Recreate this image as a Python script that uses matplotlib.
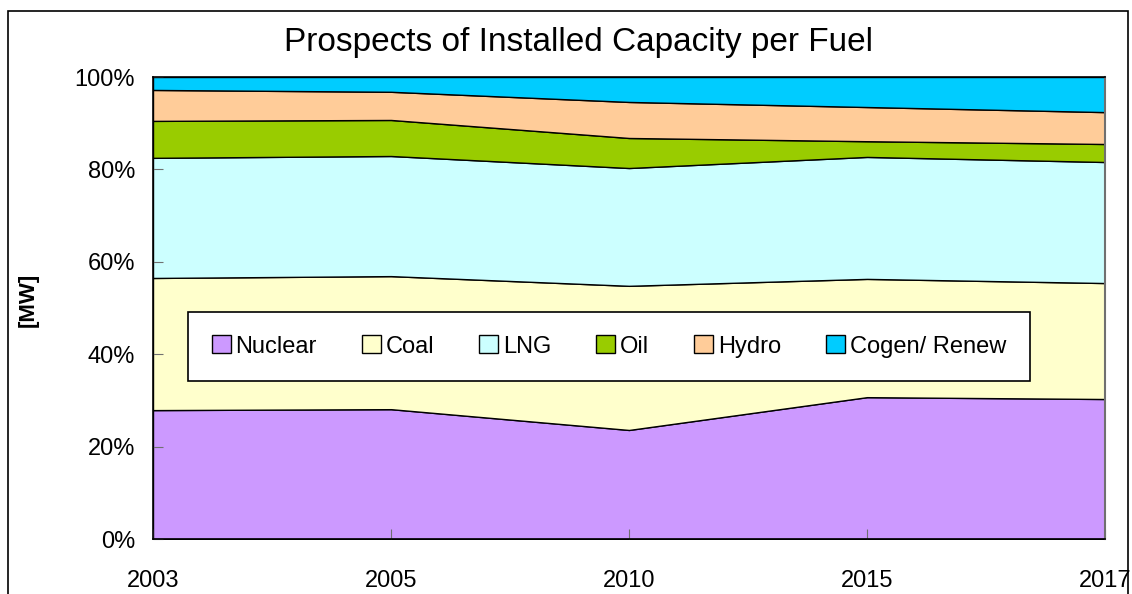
import numpy as np
import matplotlib.pyplot as plt
from matplotlib.patches import Rectangle
from matplotlib.ticker import PercentFormatter

plt.rcParams['font.family'] = ['Liberation Sans', 'DejaVu Sans']

years = ['2003', '2005', '2010', '2015', '2017']
fuels = ['Nuclear', 'Coal', 'LNG', 'Oil', 'Hydro', 'Cogen/ Renew']

# share of installed capacity, %
nuclear = [27.9, 28.1, 23.6, 30.7, 30.3]
coal = [28.6, 28.8, 31.2, 25.6, 25.1]
lng = [26.0, 26.0, 25.5, 26.4, 26.2]
oil = [8.0, 7.8, 6.5, 3.4, 3.9]
hydro = [6.7, 6.1, 7.8, 7.4, 6.9]
cogen = [2.8, 3.2, 5.4, 6.5, 7.6]

colors = ['#CC99FF', '#FFFFCC', '#CCFFFF', '#99CC00', '#FFCC99', '#00CCFF']

fig = plt.figure(figsize=(11.32, 5.94), dpi=100)
ax = fig.add_axes([153/1132, 55/594, 952/1132, 462/594])

# outer chart frame
fig.patches.append(Rectangle((8/1132, -0.05), 1120/1132, 1 - 11/594 + 0.05,
                             transform=fig.transFigure, fill=False,
                             edgecolor='black', linewidth=1.2))

x = np.arange(len(years))
series = [nuclear, coal, lng, oil, hydro, cogen]
polys = ax.stackplot(x, *series, colors=colors, edgecolor='black',
                     linewidth=1.0, labels=fuels)

ax.set_xlim(0, len(years) - 1)
ax.set_ylim(0, 100)
ax.set_yticks(np.arange(0, 101, 20))
ax.yaxis.set_major_formatter(PercentFormatter(decimals=0))
ax.set_xticks(x)
ax.set_xticklabels(years)
ax.tick_params(axis='both', direction='in', length=7, color='#707070',
               labelsize=17)
ax.tick_params(axis='x', pad=22)
ax.tick_params(axis='y', pad=13)

for s in ['left', 'bottom', 'top']:
    ax.spines[s].set_color('black')
    ax.spines[s].set_linewidth(1.2)
ax.spines['right'].set_color('#707070')
ax.spines['right'].set_linewidth(1.5)

fig.text(578/1132, 1 - 42/594, 'Prospects of Installed Capacity per Fuel',
         ha='center', va='center', fontsize=24)
fig.text(28/1132, 1 - 300/594, '[MW]', rotation=90, ha='center',
         va='center', fontsize=16, fontweight='bold')

leg = ax.legend(loc='center', ncol=6, mode='expand',
                bbox_to_anchor=(0.037, 0.34, 0.884, 0.1535),
                fontsize=17, frameon=True, fancybox=False,
                handlelength=0.8, handleheight=0.8, handletextpad=0.2,
                borderaxespad=0, borderpad=1.0, columnspacing=1.0)
leg.get_frame().set_edgecolor('black')
leg.get_frame().set_linewidth(1.2)
leg.get_frame().set_alpha(1)

fig.savefig('out.png', dpi=100)
